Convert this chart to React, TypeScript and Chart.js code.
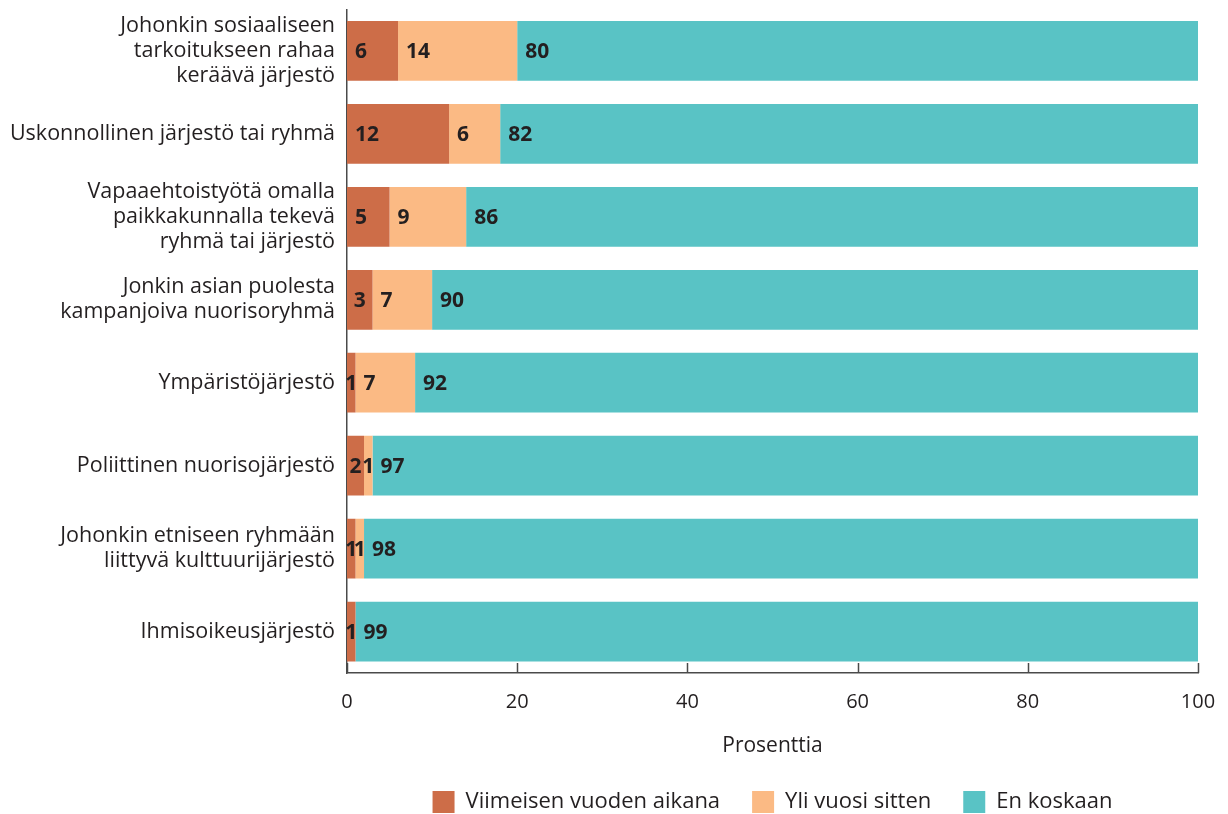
import React, { useEffect, useRef } from "react";
import { Chart, registerables } from "chart.js";

Chart.register(...registerables);

const categories: (string | string[])[] = [
  ["Johonkin sosiaaliseen", "tarkoitukseen rahaa", "keräävä järjestö"],
  "Uskonnollinen järjestö tai ryhmä",
  ["Vapaaehtoistyötä omalla", "paikkakunnalla tekevä", "ryhmä tai järjestö"],
  ["Jonkin asian puolesta", "kampanjoiva nuorisoryhmä"],
  "Ympäristöjärjestö",
  "Poliittinen nuorisojärjestö",
  ["Johonkin etniseen ryhmään", "liittyvä kulttuurijärjestö"],
  "Ihmisoikeusjärjestö",
];

const seriesNames = ["Viimeisen vuoden aikana", "Yli vuosi sitten", "En koskaan"];
const lastYear = [6, 12, 5, 3, 1, 2, 1, 1];
const overYear = [14, 6, 9, 7, 7, 1, 1, 0];
const never = [80, 82, 86, 90, 92, 97, 98, 99];
const xTicks = [0, 20, 40, 60, 80, 100];
const xTitle = "Prosenttia";

const colors = ["#cd6d48", "#fbba84", "#59c3c5"];
const textColor = "#231f20";
const axisColor = "#4a4a4a";
const fontFamily = "'Open Sans', sans-serif";

const PLOT_LEFT = 347;
const PLOT_BOTTOM = 673;
const PAD_BOTTOM = -9;

const valueLabels = {
  id: "valueLabels",
  afterDatasetsDraw(chart: any) {
    const ctx = chart.ctx;
    ctx.save();
    ctx.font = `bold 21px ${fontFamily}`;
    ctx.fillStyle = textColor;
    ctx.textAlign = "left";
    ctx.textBaseline = "middle";
    chart.data.datasets.forEach((ds: any, di: number) => {
      const meta = chart.getDatasetMeta(di);
      meta.data.forEach((el: any, i: number) => {
        const v = ds.data[i];
        if (!v) return;
        const txt = String(v);
        const tw = ctx.measureText(txt).width;
        const start = Math.min(el.base, el.x);
        const w = Math.abs(el.x - el.base);
        const off = Math.min(8, (w - tw) / 2);
        ctx.fillText(txt, start + off, el.y + 1);
      });
    });
    ctx.restore();
  },
};

const innerTicks = {
  id: "innerTicks",
  afterDraw(chart: any) {
    const ctx = chart.ctx;
    const xs = chart.scales.x;
    const bottom = chart.chartArea.bottom;
    ctx.save();
    ctx.strokeStyle = axisColor;
    ctx.lineWidth = 1.5;
    xTicks.forEach((t) => {
      const px = Math.round(xs.getPixelForValue(t)) + 0.5;
      ctx.beginPath();
      ctx.moveTo(px, bottom);
      ctx.lineTo(px, bottom - 10);
      ctx.stroke();
    });
    ctx.restore();
  },
};

const legendUnderPlot = {
  id: "legendUnderPlot",
  afterLayout(chart: any) {
    const lg = chart.legend;
    if (!lg) return;
    lg.left = chart.chartArea.left;
    lg.right = chart.chartArea.right;
    lg.width = lg.right - lg.left;
  },
};

export default function App() {
  const ref = useRef<HTMLCanvasElement>(null);
  useEffect(() => {
    if (!ref.current) return;
    const chart = new Chart(ref.current, {
      type: "bar",
      data: {
        labels: categories,
        datasets: [
          { label: seriesNames[0], data: lastYear, backgroundColor: colors[0] },
          { label: seriesNames[1], data: overYear, backgroundColor: colors[1] },
          { label: seriesNames[2], data: never, backgroundColor: colors[2] },
        ],
      },
      options: {
        indexAxis: "y",
        animation: false,
        responsive: false,
        maintainAspectRatio: false,
        layout: { padding: { top: 9.5, right: 30, bottom: PAD_BOTTOM, left: 0 } },
        datasets: {
          bar: { categoryPercentage: 1, barPercentage: 0.72, borderWidth: 0 },
        },
        scales: {
          x: {
            stacked: true,
            min: 0,
            max: 100,
            afterBuildTicks: (s: any) => {
              s.ticks = xTicks.map((v) => ({ value: v }));
            },
            afterFit: (s: any) => {
              const lh = s.chart.legend && s.chart.legend.height ? s.chart.legend.height : 62;
              s.height = 814 - PAD_BOTTOM - lh - PLOT_BOTTOM;
              s.paddingLeft = 0;
              s.paddingRight = 0;
            },
            grid: { display: false, drawTicks: false },
            border: { display: true, color: axisColor, width: 1.5 },
            ticks: {
              color: textColor,
              font: { family: fontFamily, size: 20 },
              padding: 17,
              maxRotation: 0,
            },
            title: {
              display: true,
              text: xTitle,
              color: textColor,
              font: { family: fontFamily, size: 21 },
              padding: { top: 19, bottom: 0 },
            },
          },
          y: {
            stacked: true,
            afterFit: (s: any) => {
              s.width = PLOT_LEFT;
              s.paddingTop = 0;
              s.paddingBottom = 0;
            },
            grid: { display: false, drawTicks: false },
            border: { display: true, color: axisColor, width: 1.5 },
            ticks: {
              color: textColor,
              font: { family: fontFamily, size: 21.5, lineHeight: 1.17 },
              padding: 12,
              autoSkip: false,
            },
          },
        },
        plugins: {
          legend: {
            position: "bottom",
            labels: {
              boxWidth: 22,
              boxHeight: 22,
              padding: 32,
              color: textColor,
              font: { family: fontFamily, size: 22 },
            },
          },
          tooltip: { enabled: false },
        },
      },
      plugins: [valueLabels, innerTicks, legendUnderPlot],
    } as any);
    return () => chart.destroy();
  }, []);
  return (
    <div style={{ position: "fixed", left: 0, top: 0, width: 1228, height: 814, background: "#fff" }}>
      <canvas ref={ref} width={1228} height={814} style={{ width: 1228, height: 814 }} />
    </div>
  );
}
